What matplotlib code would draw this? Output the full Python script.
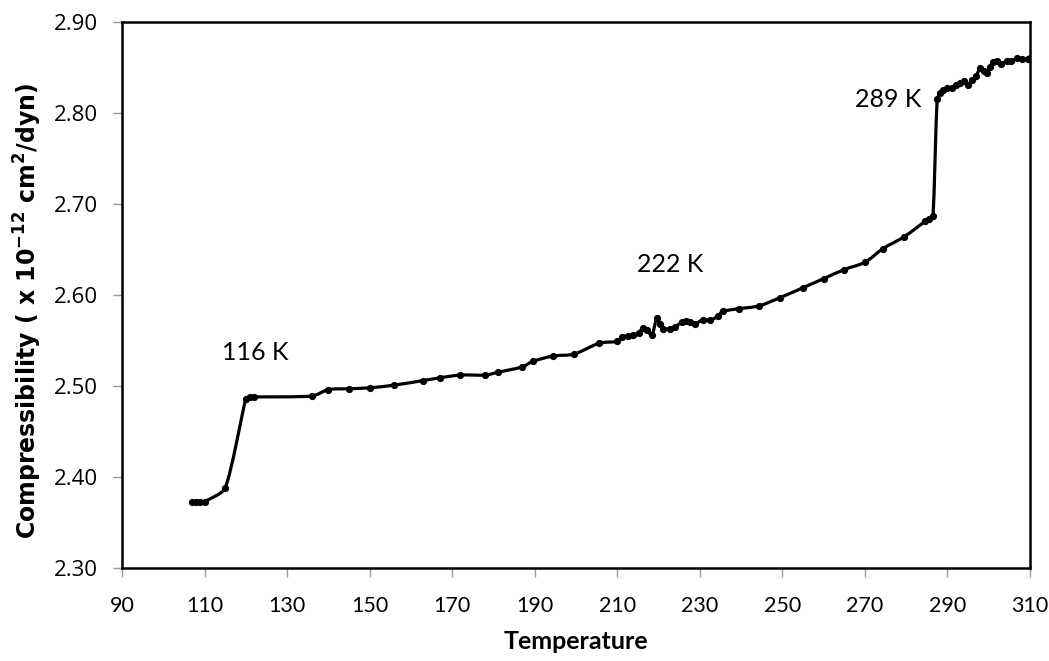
import matplotlib.pyplot as plt
from matplotlib.path import Path
from matplotlib.patches import PathPatch

# 温度 (K) 与压缩率数据
temperature = [107, 108, 109, 110, 115, 120, 121, 122, 136, 140, 145, 150, 156, 163, 167,
               172, 178, 181, 187, 189.5, 194.5, 199.5, 205.6, 210, 211.2, 212.5, 213.8, 215.2,
               216.2, 217.3, 218.4, 219.6, 220.3, 221.1, 222.8, 224, 225.6, 226.6, 227.6,
               228.8, 230.8, 232.5, 234.4, 235.6, 239.5, 244.3, 249.4, 255, 260, 265, 270,
               274.4, 279.5, 284.6, 285.6, 286.5, 287.5, 288.3, 289, 290, 291, 292, 293,
               294, 295, 296, 297, 297.9, 298.8, 299.6, 300.3, 301, 302, 303, 304.4, 305.5,
               306.8, 308, 309.5, 310]
compressibility = [2.373, 2.373, 2.373, 2.373, 2.388, 2.486, 2.488, 2.488, 2.489, 2.496,
                   2.497, 2.498, 2.501, 2.506, 2.509, 2.512, 2.512, 2.515, 2.521, 2.527,
                   2.533, 2.535, 2.547, 2.549, 2.554, 2.555, 2.556, 2.558, 2.564, 2.561,
                   2.556, 2.575, 2.568, 2.563, 2.563, 2.565, 2.570, 2.571, 2.570, 2.568,
                   2.573, 2.572, 2.577, 2.582, 2.585, 2.588, 2.597, 2.608, 2.618, 2.628,
                   2.636, 2.651, 2.664, 2.681, 2.684, 2.687, 2.815, 2.822, 2.825, 2.827,
                   2.827, 2.831, 2.833, 2.835, 2.831, 2.836, 2.841, 2.849, 2.846, 2.844,
                   2.851, 2.856, 2.857, 2.854, 2.857, 2.857, 2.860, 2.859, 2.859, 2.861]

annotations = [("116 K", 122.3, 2.537), ("222 K", 222.8, 2.634), ("289 K", 275.6, 2.815)]
x_ticks = list(range(90, 311, 20))
y_ticks = [2.30, 2.40, 2.50, 2.60, 2.70, 2.80, 2.90]

narrow = ['Lato', 'DejaVu Sans']
XR, YR = 220.0, 0.6   # 轴范围，用于把切线换算到屏幕比例


def ctrl(px, py, tx, ty, seg):
    # 控制点偏移不超过本段长度的 1/3，避免在陡变处过冲
    L = ((tx / XR) ** 2 + (ty / YR) ** 2) ** 0.5
    lim = seg / 3
    if L > lim and L > 0:
        tx, ty = tx * lim / L, ty * lim / L
    return px + tx, py + ty


fig = plt.figure(figsize=(10.49, 6.61), dpi=100)
ax = fig.add_axes([0.1163, 0.1407, 0.8656, 0.826])

# Excel 风格平滑线
n = len(temperature)
verts = [(temperature[0], compressibility[0])]
codes = [Path.MOVETO]
for i in range(n - 1):
    x0, y0 = temperature[max(i - 1, 0)], compressibility[max(i - 1, 0)]
    x1, y1 = temperature[i], compressibility[i]
    x2, y2 = temperature[i + 1], compressibility[i + 1]
    x3, y3 = temperature[min(i + 2, n - 1)], compressibility[min(i + 2, n - 1)]
    seg = (((x2 - x1) / XR) ** 2 + ((y2 - y1) / YR) ** 2) ** 0.5
    c1 = ctrl(x1, y1, (x2 - x0) / 6, (y2 - y0) / 6, seg)
    c2 = ctrl(x2, y2, -(x3 - x1) / 6, -(y3 - y1) / 6, seg)
    verts += [c1, c2, (x2, y2)]
    codes += [Path.CURVE4] * 3
ax.add_patch(PathPatch(Path(verts, codes), fill=False, edgecolor='black',
                       linewidth=2.3, capstyle='round', joinstyle='round'))
ax.plot(temperature, compressibility, linestyle='none', marker='o', markersize=4.2,
        color='black')

for label, tx, ty in annotations:
    ax.text(tx, ty, label, fontsize=18, family=narrow, ha='center', va='center')

ax.set_xlim(90, 310)
ax.set_ylim(2.30, 2.90)
ax.set_xticks(x_ticks)
ax.set_yticks(y_ticks)
ax.set_yticklabels([f"{v:.2f}" for v in y_ticks], family=['Open Sans', 'DejaVu Sans'],
                   fontsize=16)
ax.set_xticklabels([str(v) for v in x_ticks], family=narrow, fontsize=15.5)
ax.tick_params(axis='both', direction='out', length=6.5, width=1, color='#999999')
ax.tick_params(axis='y', pad=11)
ax.tick_params(axis='x', pad=14)

for spine in ax.spines.values():
    spine.set_linewidth(1.8)
    spine.set_color('black')

ax.set_xlabel('Temperature', fontsize=18, fontweight='bold', family=narrow, labelpad=10)
ax.set_ylabel(r'Compressibility ( x 10$^{\mathbf{-12}}$ cm$^{\mathbf{2}}$/dyn)',
              fontsize=17, fontweight='bold', family='DejaVu Sans')
ax.yaxis.set_label_coords(-0.086, 0.47)

fig.savefig('out.png', dpi=100)
